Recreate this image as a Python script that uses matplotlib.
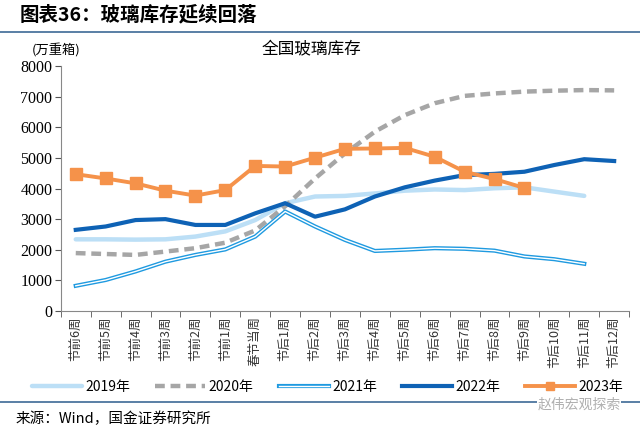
import matplotlib
matplotlib.use("Agg")
import matplotlib.pyplot as plt
import matplotlib.patheffects as pe
import numpy as np

plt.rcParams['font.family'] = ['Noto Sans CJK SC', 'DejaVu Sans']
plt.rcParams['font.serif'] = ['Liberation Serif', 'DejaVu Serif']

# categories (weeks around Spring Festival)
weeks = ['节前6周', '节前5周', '节前4周', '节前3周', '节前2周', '节前1周', '春节当周',
         '节后1周', '节后2周', '节后3周', '节后4周', '节后5周', '节后6周', '节后7周',
         '节后8周', '节后9周', '节后10周', '节后11周', '节后12周']

# inventory, 万重箱
y2019 = [2340, 2340, 2330, 2340, 2430, 2600, 2970, 3520, 3740, 3760, 3840, 3930,
         3970, 3950, 4010, 4040, 3900, 3760]
y2020 = [1890, 1860, 1830, 1940, 2050, 2230, 2630, 3420, 4330, 5150, 5860, 6400,
         6790, 7030, 7110, 7170, 7200, 7220, 7210]
y2021 = [820, 1010, 1290, 1610, 1830, 2010, 2430, 3250, 2760, 2320, 1960, 2000,
         2050, 2030, 1970, 1780, 1690, 1540]
y2022 = [2650, 2760, 2970, 3000, 2810, 2810, 3190, 3520, 3080, 3320, 3740, 4040,
         4260, 4440, 4480, 4550, 4770, 4960, 4900]
y2023 = [4470, 4330, 4170, 3930, 3770, 3950, 4740, 4720, 5010, 5300, 5310, 5330,
         5040, 4550, 4310, 4020]

fig = plt.figure(figsize=(6.4, 4.3), dpi=100)
ax = fig.add_axes([0.095, 0.277, 0.888, 0.569])

x = np.arange(len(weeks))
ax.plot(x[:len(y2019)], y2019, color='#bcdff6', lw=3.2, label='2019年', solid_capstyle='round')
ax.plot(x[:len(y2020)], y2020, color='#a6a6a6', lw=3.2, ls=(0, (2.2, 1.3)), label='2020年')
ax.plot(x[:len(y2021)], y2021, color='white', lw=1.0, label='2021年',
        path_effects=[pe.Stroke(linewidth=3.0, foreground='#1f9ae0'), pe.Normal()])
ax.plot(x[:len(y2022)], y2022, color='#0e62b5', lw=3.0, label='2022年')
ax.plot(x[:len(y2023)], y2023, color='#f5924a', lw=2.8, marker='s', ms=9,
        label='2023年')

ax.set_xlim(-0.5, len(weeks) - 0.5)
ax.set_ylim(0, 8000)
ax.set_yticks(range(0, 8001, 1000))
ax.tick_params(axis='y', labelfontfamily='serif', labelsize=11.5,
               length=4, color='#555555', pad=2)
ax.set_xticks(x)
ax.set_xticklabels(weeks, rotation=90, fontsize=9, color='#333333')
ax.set_xticks(np.arange(-0.5, len(weeks), 1), minor=True)
ax.tick_params(axis='x', which='major', length=0, pad=4)
ax.tick_params(axis='x', which='minor', length=4, color='#555555')
for s in ['top', 'right']:
    ax.spines[s].set_visible(False)
for s in ['left', 'bottom']:
    ax.spines[s].set_color('#888888')

fig.text(0.03, 0.965, '图表36：玻璃库存延续回落', fontsize=14, fontweight='bold',
         style='italic', va='center', ha='left')
fig.add_artist(plt.Line2D([0, 1], [0.925, 0.925], color='#3d6a96', lw=1.2))
fig.text(0.088, 0.883, '(万重箱)', fontsize=9.5, ha='center', va='center')
fig.text(0.487, 0.883, '全国玻璃库存', fontsize=12, ha='center', va='center')

fig.legend(loc='center', bbox_to_anchor=(0.512, 0.101), ncol=5, frameon=False,
           fontsize=10, handlelength=3.6, columnspacing=1.8, handletextpad=0.25,
           markerscale=0.6, borderpad=0.2)

fig.add_artist(plt.Line2D([0, 1], [0.066, 0.066], color='#3d6a96', lw=1.2))
fig.text(0.97, 0.058, '赵伟宏观探索', fontsize=10, color='#b0b0b0', ha='right',
         va='center', bbox=dict(fc='white', ec='none', pad=0.5))
fig.text(0.025, 0.025, '来源：Wind，国金证券研究所', fontsize=10.5, ha='left', va='center')

fig.savefig('out.png', dpi=100)
